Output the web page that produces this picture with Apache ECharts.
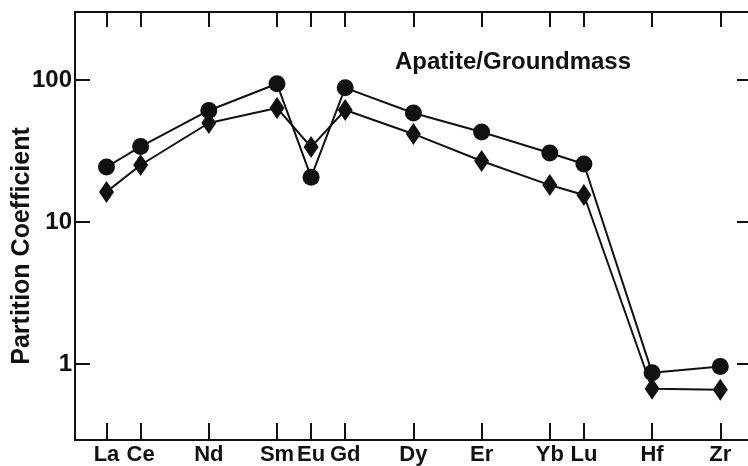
<!DOCTYPE html>
<html>
<head>
<meta charset="utf-8">
<script src="https://cdn.jsdelivr.net/npm/echarts@6/dist/echarts.min.js"></script>
<style>
  html, body { margin: 0; padding: 0; background: #fff; }
  #chart { width: 748px; height: 466px; }
</style>
</head>
<body>
<div id="chart"></div>
<script>
// element labels and where they sit along the x axis (one unit per REE step)
var elements = ['La', 'Ce', 'Nd', 'Sm', 'Eu', 'Gd', 'Dy', 'Er', 'Yb', 'Lu', 'Hf', 'Zr'];
var elementPos = [0, 1, 3, 5, 6, 7, 9, 11, 13, 14, 16, 18];

// partition coefficients
var kdCircle = [24.4, 34, 61, 94, 20.7, 88, 58.6, 43, 30.6, 25.6, 0.87, 0.96];
var kdDiamond = [16.3, 25.2, 49.8, 63.5, 33.7, 61.5, 41.7, 26.9, 18.2, 15.5, 0.67, 0.66];

var yTicks = [1, 10, 100];

var FONT = '"Liberation Sans", Arial, sans-serif';
var INK = '#111';

function pairs(vals) {
    return elementPos.map(function (x, i) { return [x, vals[i]]; });
}

var chart = echarts.init(document.getElementById('chart'), null, { renderer: 'canvas' });

var xMin = -0.924, xMax = 18.93;
var yMin = 0.292, yMax = 301;

var option = {
    backgroundColor: '#fff',
    animation: false,
    grid: { left: 75, right: -4, top: 12, bottom: 26, containLabel: false, outerBoundsMode: 'none' },
    graphic: [{
        type: 'text',
        x: 395, y: 62,
        style: {
            text: 'Apatite/Groundmass',
            font: 'bold 24px ' + FONT,
            fill: INK,
            textVerticalAlign: 'middle'
        }
    }, {
        // y axis title, sits a little below the plot middle like the original
        type: 'text',
        x: 22, y: 246,
        rotation: Math.PI / 2,
        style: {
            text: 'Partition Coefficient',
            font: 'bold 25px ' + FONT,
            fill: INK,
            textAlign: 'center',
            textVerticalAlign: 'middle'
        }
    }],
    xAxis: [{
        type: 'value',
        position: 'bottom',
        min: xMin, max: xMax,
        axisLine: { show: true, onZero: false, lineStyle: { color: INK, width: 2 } },
        axisTick: {
            show: true, inside: true, length: 17,
            customValues: elementPos,
            lineStyle: { color: INK, width: 2 }
        },
        axisLabel: {
            customValues: elementPos,
            formatter: function (v) { return elements[elementPos.indexOf(Math.round(v))] || ''; },
            color: INK, fontFamily: FONT, fontWeight: 'bold', fontSize: 22, margin: 4
        },
        splitLine: { show: false }
    }, {
        type: 'value',
        position: 'top',
        min: xMin, max: xMax,
        axisLine: { show: true, onZero: false, lineStyle: { color: INK, width: 2 } },
        axisTick: {
            show: true, inside: true, length: 15,
            customValues: elementPos,
            lineStyle: { color: INK, width: 2 }
        },
        axisLabel: { show: false },
        splitLine: { show: false }
    }],
    yAxis: [{
        type: 'log',
        min: yMin, max: yMax,
        axisLine: { show: true, onZero: false, lineStyle: { color: INK, width: 2 } },
        axisTick: { show: true, inside: true, length: 15, lineStyle: { color: INK, width: 2 } },
        minorTick: { show: false },
        axisLabel: {
            color: INK, fontFamily: FONT, fontWeight: 'bold', fontSize: 24, margin: 3,
            showMinLabel: false, showMaxLabel: false,
            formatter: function (v) {
                var r = Math.round(v);
                return yTicks.indexOf(r) >= 0 && Math.abs(v - r) < 1e-6 * r ? String(r) : '';
            }
        },
        splitLine: { show: false }
    }, {
        type: 'log',
        position: 'right',
        min: yMin, max: yMax,
        axisLine: { show: false, onZero: false },
        axisTick: { show: true, inside: true, length: 15, lineStyle: { color: INK, width: 2 } },
        axisLabel: { show: false },
        splitLine: { show: false }
    }],
    series: [{
        type: 'line',
        data: pairs(kdCircle),
        symbol: 'circle',
        symbolSize: 17,
        itemStyle: { color: INK },
        lineStyle: { color: INK, width: 2 }
    }, {
        type: 'line',
        data: pairs(kdDiamond),
        symbol: 'diamond',
        symbolSize: [15, 22],
        itemStyle: { color: INK },
        lineStyle: { color: INK, width: 2 }
    }]
};

chart.setOption(option);
</script>
</body>
</html>
